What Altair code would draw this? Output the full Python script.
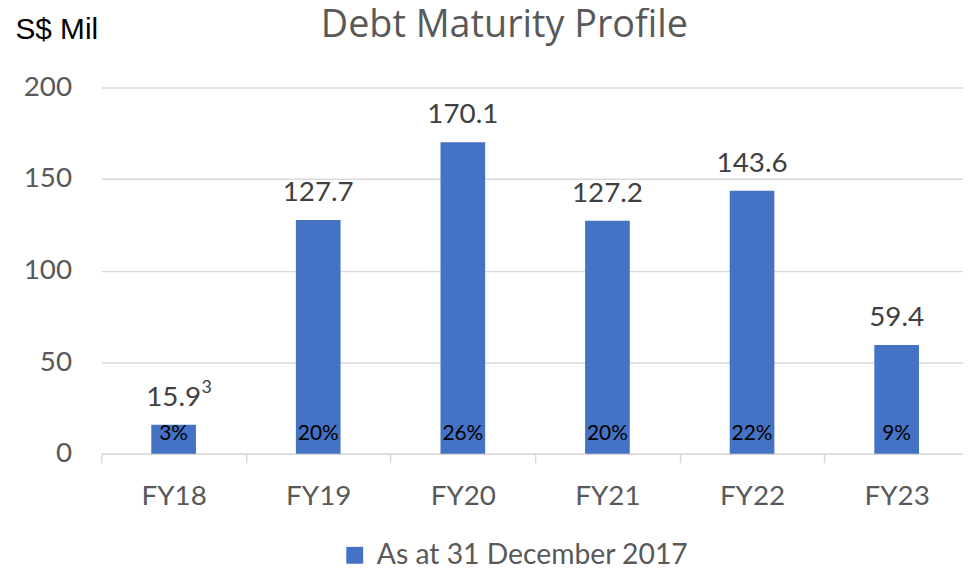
import altair as alt
import pandas as pd

categories = ["FY18", "FY19", "FY20", "FY21", "FY22", "FY23"]
values = [15.9, 127.7, 170.1, 127.2, 143.6, 59.4]
value_labels = ["15.9", "127.7", "170.1", "127.2", "143.6", "59.4"]
shares = ["3%", "20%", "26%", "20%", "22%", "9%"]
footnotes = ["3", "", "", "", "", ""]
series_name = "As at 31 December 2017"
chart_title = "Debt Maturity Profile"
y_title = "S$ Mil"
y_ticks = [0, 50, 100, 150, 200]

df = pd.DataFrame({
    "cat": categories,
    "value": values,
    "vlabel": value_labels,
    "share": shares,
    "note": footnotes,
    "series": [series_name] * len(categories),
})

FONT = "Lato"
W, H = 868, 369

x_enc = alt.X(
    "cat:N",
    sort=categories,
    scale=alt.Scale(range=[0, 874], paddingInner=0, paddingOuter=0),
    axis=alt.Axis(
        title=None,
        labelAngle=0,
        labelFont=FONT,
        labelFontSize=28,
        labelColor="#595959",
        labelPadding=20,
        domainColor="#d9d9d9",
        domainWidth=1.5,
        tickColor="#d9d9d9",
        tickWidth=1.5,
        tickSize=9,
        tickBand="extent",
        grid=False,
    ),
)

base = alt.Chart(df)

bars = base.mark_bar(size=45, color="#4472c4").encode(
    x=x_enc,
    y=alt.Y(
        "value:Q",
        scale=alt.Scale(domain=[0, 200], nice=False),
        axis=alt.Axis(
            values=y_ticks,
            title=y_title,
            titleAngle=0,
            titleAlign="left",
            titleBaseline="alphabetic",
            titleX=-87,
            titleY=-49,
            titleFont="Liberation Sans",
            titleFontSize=30,
            titleFontWeight="normal",
            titleColor="#000000",
            labelFont=FONT,
            labelFontSize=28,
            labelColor="#595959",
            labelPadding=30,
            ticks=False,
            domain=False,
            grid=True,
            gridColor="#d9d9d9",
            gridWidth=1.5,
        ),
    ),
    color=alt.Color(
        "series:N",
        scale=alt.Scale(domain=[series_name], range=["#4472c4"]),
        legend=alt.Legend(
            title=None,
            orient="none",
            legendX=241,
            legendY=457,
            symbolType="square",
            symbolSize=289,
            symbolStrokeWidth=0,
            labelFont=FONT,
            labelFontSize=28.5,
            labelColor="#595959",
            labelOffset=8,
            labelLimit=600,
        ),
    ),
)

vtext = base.mark_text(
    font=FONT, fontSize=28, color="#404040", baseline="alphabetic", dy=-19
).encode(x=alt.X("cat:N", sort=categories), y="value:Q", text="vlabel:N")

notes = base.mark_text(
    font=FONT, fontSize=18, color="#404040", baseline="alphabetic", align="left",
    dx=28, dy=-32
).encode(x=alt.X("cat:N", sort=categories), y="value:Q", text="note:N")

ptext = base.mark_text(
    font=FONT, fontSize=21, color="#000000", baseline="alphabetic"
).encode(x=alt.X("cat:N", sort=categories), y=alt.value(H - 14), text="share:N")

title_mark = alt.Chart(pd.DataFrame({"t": [chart_title]})).mark_text(
    font="Open Sans", fontSize=38, color="#595959", baseline="alphabetic", align="center"
).encode(x=alt.value(406), y=alt.value(-51), text="t:N")

chart = (
    alt.layer(bars, vtext, notes, ptext, title_mark)
    .properties(
        width=W,
        height=H,
        autosize="none",
        padding={"left": 94, "top": 78, "right": 0, "bottom": 113},
    )
    .configure_view(stroke=None)
)

chart.save("out.html", embed_options={"renderer": "svg", "actions": False})
